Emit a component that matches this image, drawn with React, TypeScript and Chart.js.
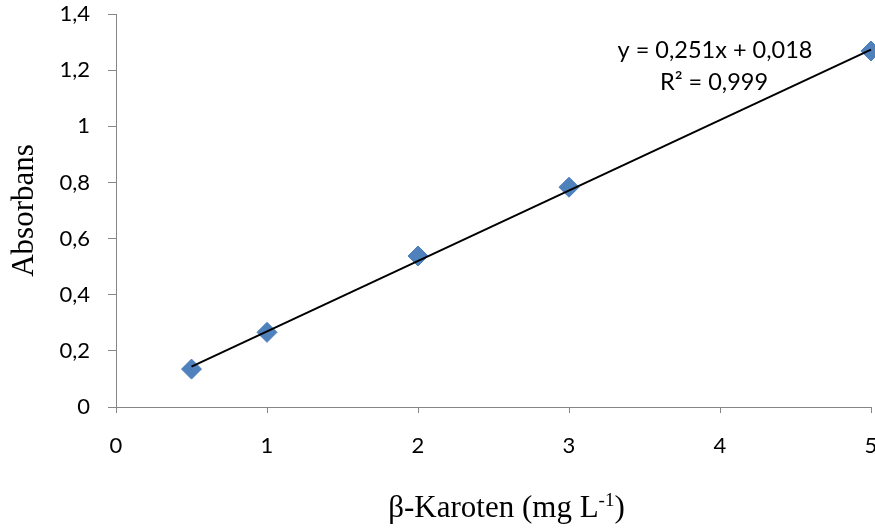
import React, { useEffect, useRef } from "react";
import { Chart, registerables } from "chart.js";

Chart.register(...registerables);

const concentrations = [0.5, 1, 2, 3, 5];
const absorbances = [0.135, 0.266, 0.538, 0.783, 1.268];
const trendX = [0.5, 5];
const trendY = [0.1435, 1.273];
const equationLines = ["y = 0,251x + 0,018", "R² = 0,999"];
const xTitleMain = "β-Karoten (mg L";
const xTitleSup = "-1";
const xTitleEnd = ")";
const yTitle = "Absorbans";

const CANVAS_W = 895;
const CANVAS_H = 532;

export default function App() {
  const ref = useRef<HTMLCanvasElement | null>(null);

  useEffect(() => {
    if (!ref.current) return;
    const textPlugin = {
      id: "texts",
      afterDraw(chart: any) {
        const ctx = chart.ctx;
        const ca = chart.chartArea;
        ctx.save();
        ctx.fillStyle = "#000";
        // equation
        ctx.font = "23.5px Lato";
        ctx.textAlign = "center";
        ctx.textBaseline = "alphabetic";
        ctx.fillText(equationLines[0], ca.right - 156, ca.top + 44);
        ctx.fillText(equationLines[1], ca.right - 157, ca.top + 76);
        // x title with superscript
        const mainFont = "31px 'Liberation Serif'";
        const supFont = "19px 'Liberation Serif'";
        ctx.textAlign = "left";
        ctx.font = mainFont;
        const w1 = ctx.measureText(xTitleMain).width;
        const w3 = ctx.measureText(xTitleEnd).width;
        ctx.font = supFont;
        const w2 = ctx.measureText(xTitleSup).width;
        const total = w1 + w2 + w3;
        const cx = (ca.left + ca.right) / 2 + 13;
        const baseY = ca.bottom + 110;
        let x = cx - total / 2;
        ctx.font = mainFont;
        ctx.fillText(xTitleMain, x, baseY);
        x += w1;
        ctx.font = supFont;
        ctx.fillText(xTitleSup, x, baseY - 11);
        x += w2;
        ctx.font = mainFont;
        ctx.fillText(xTitleEnd, x, baseY);
        // y title
        ctx.translate(33, (ca.top + ca.bottom) / 2);
        ctx.rotate(-Math.PI / 2);
        ctx.textAlign = "center";
        ctx.font = mainFont;
        ctx.fillText(yTitle, 0, 0);
        ctx.restore();
      },
    };

    const chart = new Chart(ref.current, {
      type: "scatter",
      data: {
        datasets: [
          {
            type: "line",
            label: "trend",
            data: trendX.map((x, i) => ({ x, y: trendY[i] })),
            borderColor: "#000000",
            borderWidth: 2,
            pointRadius: 0,
            fill: false,
            clip: false as any,
            order: 1,
          } as any,
          {
            label: "data",
            data: concentrations.map((x, i) => ({ x, y: absorbances[i] })),
            pointStyle: "rectRot",
            pointRadius: 10,
            pointHoverRadius: 10,
            backgroundColor: "#4F81BD",
            borderColor: "#4A7EBB",
            borderWidth: 1,
            clip: false as any,
            order: 2,
          },
        ],
      },
      options: {
        responsive: false,
        animation: false,
        events: [],
        layout: { padding: { left: 0, top: 14, right: CANVAS_W - 871, bottom: 0 } },
        plugins: {
          legend: { display: false },
          tooltip: { enabled: false },
          title: { display: false },
        },
        scales: {
          x: {
            type: "linear",
            min: 0,
            max: 5,
            border: { display: true, color: "#868686", width: 1 },
            grid: {
              display: true,
              drawOnChartArea: false,
              drawTicks: true,
              tickLength: 6,
              color: "#868686",
            },
            ticks: {
              stepSize: 1,
              color: "#000",
              font: { family: "Lato", size: 22 },
              padding: 20,
              maxRotation: 0,
            },
            afterFit: (scale: any) => {
              scale.height = CANVAS_H - 407;
              scale.paddingLeft = 0;
              scale.paddingRight = 0;
            },
          },
          y: {
            type: "linear",
            min: 0,
            max: 1.4,
            border: { display: true, color: "#868686", width: 1 },
            grid: {
              display: true,
              drawOnChartArea: false,
              drawTicks: true,
              tickLength: 8,
              color: "#868686",
            },
            ticks: {
              stepSize: 0.2,
              color: "#000",
              font: { family: "Lato", size: 22 },
              padding: 18,
              callback: (v: any) => {
                const n = Math.round(Number(v) * 10) / 10;
                return String(n).replace(".", ",");
              },
            },
            afterFit: (scale: any) => {
              scale.width = 116;
              scale.paddingTop = 0;
              scale.paddingBottom = 0;
            },
          },
        },
      },
      plugins: [textPlugin],
    });
    return () => chart.destroy();
  }, []);

  return (
    <div
      style={{
        position: "absolute",
        left: 0,
        top: 0,
        width: 875,
        height: 532,
        overflow: "hidden",
        background: "#fff",
      }}
    >
      <canvas ref={ref} width={CANVAS_W} height={CANVAS_H} style={{ display: "block" }} />
    </div>
  );
}
